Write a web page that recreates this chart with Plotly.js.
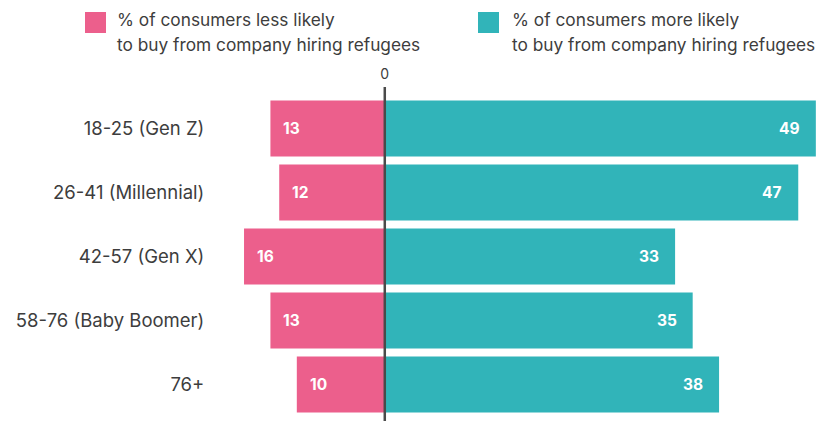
<!DOCTYPE html>
<html>
<head>
<meta charset="utf-8">
<script src="https://cdn.plot.ly/plotly-3.0.1.min.js"></script>
<style>html,body{margin:0;padding:0;background:#fff;}#chart{width:832px;height:421px;}</style>
</head>
<body>
<div id="chart"></div>
<script>
const categories = ["18-25 (Gen Z)", "26-41 (Millennial)", "42-57 (Gen X)", "58-76 (Baby Boomer)", "76+"];
const lessLikely = [13, 12, 16, 13, 10];
const moreLikely = [49, 47, 33, 35, 38];
const lessName = ["% of consumers less likely", "to buy from company hiring refugees"];
const moreName = ["% of consumers more likely", "to buy from company hiring refugees"];

const PINK = "#EC5F8C", TEAL = "#31B4B9", TXT = "#3d3d3d";
const FONT = "Inter, Roboto, sans-serif";

const traces = [
  {type: "bar", orientation: "h", y: categories, x: lessLikely.map(v => -v), base: 0,
   marker: {color: PINK}, width: 0.875, name: lessName.join(" "), hoverinfo: "skip"},
  {type: "bar", orientation: "h", y: categories, x: moreLikely, base: 0,
   marker: {color: TEAL}, width: 0.875, name: moreName.join(" "), hoverinfo: "skip"}
];

const W = 832, H = 421, ML = 215, MR = 10, MT = 87, MB = 0;
const pw = W - ML - MR, ph = H - MT - MB;
function px2x(px) { return (px - ML) / pw; }
function py2y(py) { return (H - MB - py) / ph; }

const annotations = [];
categories.forEach((c, i) => {
  annotations.push({x: -lessLikely[i], y: c, xref: "x", yref: "y", text: "<b>" + lessLikely[i] + "</b>",
    showarrow: false, xanchor: "left", xshift: 11, font: {family: FONT, size: 15.5, color: "#fff"}});
  annotations.push({x: moreLikely[i], y: c, xref: "x", yref: "y", text: "<b>" + moreLikely[i] + "</b>",
    showarrow: false, xanchor: "right", xshift: -14, font: {family: FONT, size: 15.5, color: "#fff"}});
});
[[lessName, 115], [moreName, 510]].forEach(([lines, px]) => {
  lines.forEach((t, j) => {
    annotations.push({x: px2x(px), y: py2y(20 + j * 24), xref: "paper", yref: "paper", text: t, showarrow: false,
      xanchor: "left", yanchor: "middle", align: "left", font: {family: FONT, size: 17.3, color: TXT}});
  });
});

const shapes = [
  {type: "rect", xref: "paper", yref: "paper", x0: px2x(85), x1: px2x(106), y0: py2y(33), y1: py2y(12),
   fillcolor: PINK, line: {width: 0}},
  {type: "rect", xref: "paper", yref: "paper", x0: px2x(478), x1: px2x(499), y0: py2y(33), y1: py2y(12),
   fillcolor: TEAL, line: {width: 0}},
  {type: "line", xref: "x", yref: "paper", x0: 0, x1: 0, y0: 0, y1: 1, layer: "above",
   line: {color: "#4a4a4a", width: 2.5}}
];

const layout = {
  width: W, height: H,
  margin: {l: ML, r: MR, t: MT, b: MB, pad: 0},
  paper_bgcolor: "#fff", plot_bgcolor: "#fff",
  barmode: "overlay",
  showlegend: false,
  font: {family: FONT, color: TXT},
  xaxis: {range: [-19.3, 49.7], side: "top", tickvals: [0], ticktext: ["0"], showgrid: false,
          zeroline: false, showline: false, ticks: "outside", ticklen: 1, tickcolor: "rgba(0,0,0,0)",
          tickfont: {size: 14, color: TXT}, fixedrange: true},
  yaxis: {type: "category", categoryorder: "array", categoryarray: categories,
          range: [4.57, -0.648], showgrid: false, zeroline: false, showline: false,
          ticks: "outside", ticklen: 6, tickcolor: "rgba(0,0,0,0)", tickfont: {size: 18.5, color: TXT}, fixedrange: true},
  annotations: annotations,
  shapes: shapes
};

Plotly.newPlot("chart", traces, layout, {displayModeBar: false, staticPlot: true});
</script>
</body>
</html>
